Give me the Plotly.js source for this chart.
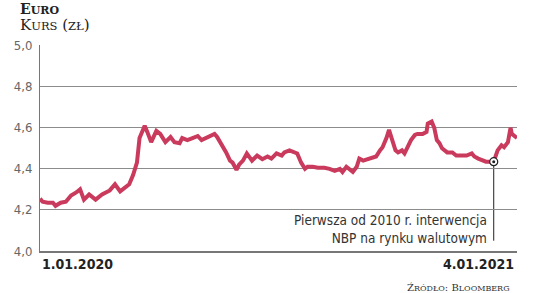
<!DOCTYPE html>
<html><head><meta charset="utf-8">
<script src="https://cdn.plot.ly/plotly-3.0.1.min.js"></script>
<style>html,body{margin:0;padding:0;background:#fff;overflow:hidden}#chart{width:536px;height:293px}</style>
</head><body><div id="chart"></div>
<script>
// EUR/PLN exchange rate
const dates = [
 '2020-01-01','2020-01-03','2020-01-07','2020-01-11','2020-01-13','2020-01-17','2020-01-21','2020-01-25','2020-01-29',
 '2020-02-01','2020-02-04','2020-02-08','2020-02-13','2020-02-18','2020-02-24','2020-02-28',
 '2020-03-03','2020-03-07','2020-03-10','2020-03-13','2020-03-16','2020-03-18','2020-03-20','2020-03-22','2020-03-24','2020-03-27','2020-03-31',
 '2020-04-03','2020-04-07','2020-04-11','2020-04-14','2020-04-18','2020-04-20','2020-04-24','2020-04-28',
 '2020-05-02','2020-05-05','2020-05-10','2020-05-15','2020-05-17','2020-05-21','2020-05-24','2020-05-27','2020-05-29',
 '2020-06-01','2020-06-03','2020-06-06','2020-06-09','2020-06-13','2020-06-17','2020-06-21','2020-06-25','2020-06-28',
 '2020-07-02','2020-07-06','2020-07-08','2020-07-12','2020-07-16','2020-07-18','2020-07-21','2020-07-24','2020-07-26','2020-07-30',
 '2020-08-03','2020-08-08','2020-08-12','2020-08-16','2020-08-20','2020-08-22','2020-08-25','2020-08-27','2020-08-30',
 '2020-09-02','2020-09-04','2020-09-07','2020-09-10','2020-09-14','2020-09-17','2020-09-20','2020-09-22','2020-09-25','2020-09-27','2020-09-29',
 '2020-10-02','2020-10-04','2020-10-07','2020-10-09','2020-10-11','2020-10-14','2020-10-17','2020-10-19','2020-10-23','2020-10-26','2020-10-27','2020-10-30',
 '2020-11-01','2020-11-03','2020-11-05','2020-11-07','2020-11-11','2020-11-15','2020-11-18','2020-11-22','2020-11-26','2020-11-30',
 '2020-12-02','2020-12-05','2020-12-09','2020-12-11','2020-12-15','2020-12-17','2020-12-20','2020-12-23','2020-12-25','2020-12-28','2020-12-30','2020-12-31',
 '2021-01-04'
];
const kurs = [
 4.255,4.24,4.235,4.235,4.22,4.235,4.24,4.27,4.285,
 4.30,4.25,4.275,4.25,4.275,4.295,4.325,
 4.29,4.31,4.325,4.37,4.43,4.55,4.58,4.61,4.58,4.53,4.585,
 4.57,4.53,4.555,4.53,4.525,4.55,4.54,4.55,
 4.56,4.54,4.555,4.57,4.555,4.515,4.48,4.44,4.43,
 4.395,4.42,4.44,4.475,4.44,4.465,4.447,4.46,4.45,
 4.475,4.465,4.48,4.49,4.48,4.475,4.43,4.40,4.41,4.41,
 4.405,4.405,4.40,4.39,4.40,4.385,4.41,4.40,4.385,
 4.41,4.45,4.44,4.445,4.45,4.46,4.49,4.505,4.55,4.59,4.55,
 4.49,4.48,4.49,4.475,4.50,4.54,4.565,4.57,4.57,4.58,4.62,4.63,
 4.60,4.54,4.525,4.50,4.48,4.48,4.465,4.465,4.465,4.475,
 4.46,4.45,4.44,4.435,4.435,4.435,4.49,4.515,4.505,4.53,4.60,4.57,
 4.55
];
const yTickVals = [4.0, 4.2, 4.4, 4.6, 4.8, 5.0];
const yTickText = ['4,0', '4,2', '4,4', '4,6', '4,8', '5,0'];
const xStartLabel = '1.01.2020';
const xEndLabel = '4.01.2021';
const interventionDate = ['2020-12-17'];
const interventionValue = [4.435];
const noteText = 'Pierwsza od 2010 r. interwencja<br>NBP na rynku walutowym';

const sans = "'Liberation Sans Narrow','DejaVu Sans Condensed','Roboto',sans-serif";
const serif = "'DejaVu Serif','Liberation Serif',serif";

const traces = [
  {x: dates, y: kurs, type: 'scatter', mode: 'lines',
   line: {color: '#c93a5c', width: 4}, hoverinfo: 'skip'},
  {x: interventionDate, y: interventionValue, type: 'scatter', mode: 'markers',
   marker: {size: 8, color: '#ffffff', line: {color: '#222', width: 1.2}}, hoverinfo: 'skip'},
  {x: interventionDate, y: interventionValue, type: 'scatter', mode: 'markers',
   marker: {size: 3, color: '#222'}, hoverinfo: 'skip'}
];

const layout = {
  width: 536, height: 293,
  margin: {l: 40, r: 19, t: 45, b: 42},
  paper_bgcolor: '#fff', plot_bgcolor: '#fff',
  showlegend: false,
  xaxis: {type: 'date', range: ['2020-01-01', '2021-01-04'],
    showgrid: false, zeroline: false, showticklabels: false,
    showline: true, linecolor: '#777', linewidth: 1.5, ticks: ''},
  yaxis: {range: [4.0, 5.003], tickvals: yTickVals, ticktext: yTickText,
    showgrid: true, gridcolor: '#8c8c8c', gridwidth: 1, zeroline: false,
    showline: true, linecolor: '#777', linewidth: 1, ticks: '',
    ticklabelstandoff: 4,
    tickfont: {family: sans, size: 13, color: '#666'}},
  shapes: [
    {type: 'line', xref: 'x', yref: 'y', x0: interventionDate[0], x1: interventionDate[0],
     y0: interventionValue[0], y1: 4.05, line: {color: '#222', width: 1}, layer: 'below'}
  ],
  annotations: [
    {xref: 'paper', yref: 'paper', x: -0.046, y: 1.225, xanchor: 'left', yanchor: 'top', showarrow: false,
     text: '<b>E<span style="font-size:11px">URO</span></b>', font: {family: serif, size: 14, color: '#222'}},
    {xref: 'paper', yref: 'paper', x: -0.046, y: 1.15, xanchor: 'left', yanchor: 'top', showarrow: false,
     text: 'K<span style="font-size:11.5px">URS</span> (<span style="font-size:11.5px">ZŁ</span>)', font: {family: serif, size: 15, color: '#222'}},
    {xref: 'paper', yref: 'paper', x: 0, y: -0.063, xanchor: 'left', yanchor: 'middle', showarrow: false,
     text: '<b>' + xStartLabel + '</b>', font: {family: sans, size: 14, color: '#222'}},
    {xref: 'paper', yref: 'paper', x: 0.997, y: -0.063, xanchor: 'right', yanchor: 'middle', showarrow: false,
     text: '<b>' + xEndLabel + '</b>', font: {family: sans, size: 14, color: '#222'}},
    {xref: 'paper', yref: 'paper', x: 0.941, y: 0.109, xanchor: 'right', yanchor: 'middle', align: 'right', showarrow: false,
     text: noteText, font: {family: sans, size: 13.5, color: '#333'}},
    {xref: 'paper', yref: 'paper', x: 0.9895, y: -0.14, xanchor: 'right', yanchor: 'top', showarrow: false,
     text: 'Ź<span style="font-size:8px">RÓDŁO</span>: B<span style="font-size:8px">LOOMBERG</span>', font: {family: serif, size: 10, color: '#333'}}
  ]
};

Plotly.newPlot('chart', traces, layout, {displayModeBar: false, staticPlot: true});
</script>
</body></html>
